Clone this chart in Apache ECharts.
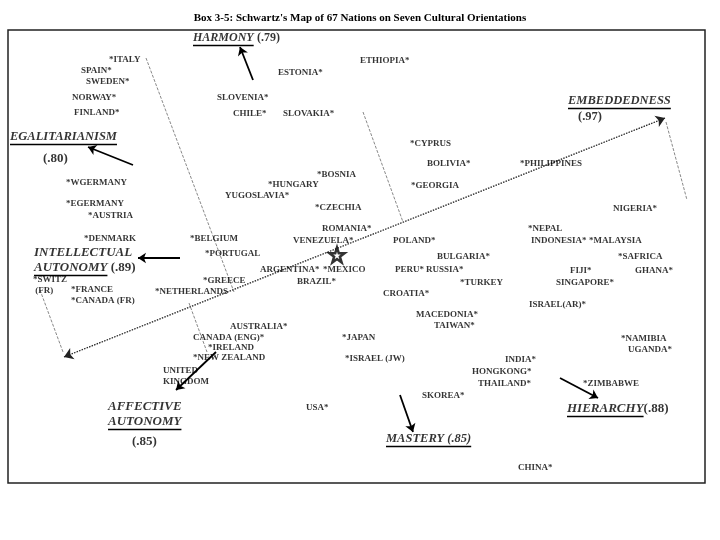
<!DOCTYPE html>
<html><head><meta charset="utf-8">
<script src="https://cdn.jsdelivr.net/npm/echarts/dist/echarts.min.js"></script>
<style>html,body{margin:0;padding:0;background:#fff}#c{width:720px;height:540px}</style>
</head><body><div id="c"></div>
<script>
// ---- data: nations and their map positions (map units) ----
const nations = ['*ITALY','SPAIN*','SWEDEN*','NORWAY*','FINLAND*','ESTONIA*','ETHIOPIA*','SLOVENIA*','CHILE*','SLOVAKIA*',
 '*CYPRUS','BOLIVIA*','*PHILIPPINES','*GEORGIA','*BOSNIA','*HUNGARY','YUGOSLAVIA*','*CZECHIA','*WGERMANY','*EGERMANY',
 '*AUSTRIA','*DENMARK','*BELGIUM','*PORTUGAL','ROMANIA*','VENEZUELA*','POLAND*','BULGARIA*','*NEPAL','INDONESIA*',
 '*MALAYSIA','NIGERIA*','*SAFRICA','FIJI*','GHANA*','SINGAPORE*','ARGENTINA*','*MEXICO','BRAZIL*','PERU*',
 'RUSSIA*','*TURKEY','CROATIA*','ISRAEL(AR)*','MACEDONIA*','TAIWAN*','*SWITZ\n (FR)','*FRANCE','*CANADA (FR)','*GREECE',
 '*NETHERLANDS','AUSTRALIA*','CANADA (ENG)*','*IRELAND','*NEW ZEALAND','UNITED\nKINGDOM','*JAPAN','*ISRAEL (JW)','INDIA*','HONGKONG*',
 'THAILAND*','*ZIMBABWE','SKOREA*','USA*','CHINA*','*NAMIBIA','UGANDA*'];
const nationX = [109,81,86,72,74,278,360,217,233,283,
 410,427,520,411,317,268,225,315,66,66,
 88,84,190,205,322,293,393,437,528,531,
 589,613,618,570,635,556,260,323,297,395,
 426,460,383,529,416,434,33,71,71,203,
 155,230,193,208,193,163,342,345,505,472,
 478,583,422,306,518,621,628];
const nationY = [60,71,82,98,113,73,61,98,114,114,
 144,164,164,186,175,185,196,208,183,204,
 216,239,239,254,229,241,241,257,229,241,
 241,209,257,271,271,283,270,270,282,270,
 270,283,294,305,315,326,285,290,301,281,
 292,327,338,348,358,376,338,359,360,372,
 384,384,396,408,468,339,350];

// ---- seven cultural orientations ----
const orientations = ['HARMONY','EGALITARIANISM','INTELLECTUAL AUTONOMY','EMBEDDEDNESS','AFFECTIVE AUTONOMY','MASTERY','HIERARCHY'];
const scores = ['.79','.80','.89','.97','.85','.85','.88'];
const centroid = [[337,255]];

// annotation geometry
const arrows = [[[253,80],[240,47]],[[133,165],[88,147]],[[180,258],[138,258]],[[216,352],[176,390]],[[400,395],[413,432]],[[560,378],[598,398]]];
const axisLine = [[64,357],[665,118]];
const guides = [[[146,58],[234,292]],[[40,290],[63,352]],[[189,303],[207,352]],[[363,112],[403,222]],[[666,122],[687,200]]];

const SERIF = "'Liberation Serif','Times New Roman',serif";
// orientation label layout: [x, y, richText, fontSize, underlinedText]
const O = orientations, S = scores;
const labelItems = [
 [193,38,'{i|'+O[0]+'} {n|('+S[0]+')}',12,O[0]],
 [10,137,'{i|'+O[1]+'}',12.5,O[1]],
 [43,159,'{n|('+S[1]+')}',13,null],
 [34,253,'{i|'+O[2].split(' ')[0]+'}',13,null],
 [34,268,'{i|'+O[2].split(' ')[1]+'} {n|('+S[2]+')}',13,O[2].split(' ')[1]],
 [568,101,'{i|'+O[3]+'}',12.5,O[3]],
 [578,117,'{n|('+S[3]+')}',12.5,null],
 [108,407,'{i|'+O[4].split(' ')[0]+'}',13,null],
 [108,422,'{i|'+O[4].split(' ')[1]+'}',13,O[4].split(' ')[1]],
 [132,442,'{n|('+S[4]+')}',13,null],
 [386,439,'{i|'+O[5]+' ('+S[5]+')}',12.5,O[5]+' ('+S[5]+')'],
 [567,409,'{i|'+O[6]+'}{n|('+S[6]+')}',13,O[6]]
];
const cv = document.createElement('canvas').getContext('2d');
const underlines = [];
labelItems.forEach(l=>{
  if(l[4]){cv.font='italic bold '+l[3]+'px '+SERIF;const w=cv.measureText(l[4]).width;
    underlines.push({coords:[[l[0],l[1]+l[3]*0.5+1],[l[0]+w,l[1]+l[3]*0.5+1]]});}
});

const chart = echarts.init(document.getElementById('c'),null,{renderer:'canvas'});
const lineBase = {type:'lines',coordinateSystem:'cartesian2d',silent:true,z:3};
chart.setOption({
  animation:false,
  backgroundColor:'#fff',
  title:{text:"Box 3-5: Schwartz's Map of 67 Nations on Seven Cultural Orientations",left:'center',top:8,
    textStyle:{fontFamily:SERIF,fontWeight:'bold',fontSize:11,color:'#000'}},
  grid:{left:8,top:30,right:15,bottom:57,show:true,borderColor:'#222',borderWidth:1.5},
  xAxis:{type:'value',min:8,max:705,show:false},
  yAxis:{type:'value',min:30,max:483,inverse:true,show:false},
  series:[
    {type:'scatter',symbolSize:0,silent:true,z:5,
     data:nations.map((n,i)=>[nationX[i],nationY[i],n]),
     label:{show:true,position:'right',distance:0,formatter:p=>p.data[2],
       fontFamily:SERIF,fontWeight:'bold',fontSize:9,lineHeight:11,color:'#000'}},
    {type:'scatter',symbolSize:0,silent:true,z:5,
     data:labelItems.map(l=>({value:[l[0],l[1]],label:{formatter:l[2],rich:{
        i:{fontFamily:SERIF,fontWeight:'bold',fontStyle:'italic',fontSize:l[3],color:'#000'},
        n:{fontFamily:SERIF,fontWeight:'bold',fontSize:l[3],color:'#000'}}}})),
     label:{show:true,position:'right',distance:0}},
    {type:'scatter',silent:true,z:6,data:centroid,symbolSize:15,
     symbol:'path://M50,2 L61,36 L97,36 L68,57 L79,92 L50,71 L21,92 L32,57 L3,36 L39,36 Z',
     itemStyle:{color:'#fff',borderColor:'#000',borderWidth:2.5}},
    Object.assign({},lineBase,{data:underlines.map(u=>({coords:u.coords})),symbol:'none',
     lineStyle:{color:'#000',width:1.3,opacity:1}}),
    Object.assign({},lineBase,{data:arrows.map(a=>({coords:a})),symbol:['none','arrow'],symbolSize:8,
     lineStyle:{color:'#000',width:1.8,opacity:1}}),
    Object.assign({},lineBase,{data:[{coords:axisLine}],symbol:['arrow','arrow'],symbolSize:9,
     lineStyle:{color:'#222',width:1.3,type:[1.5,1.2],opacity:1}}),
    Object.assign({},lineBase,{data:guides.map(g=>({coords:g})),symbol:'none',
     lineStyle:{color:'#555',width:0.7,type:[3,1.5],opacity:1}})
  ]
});
</script></body></html>
